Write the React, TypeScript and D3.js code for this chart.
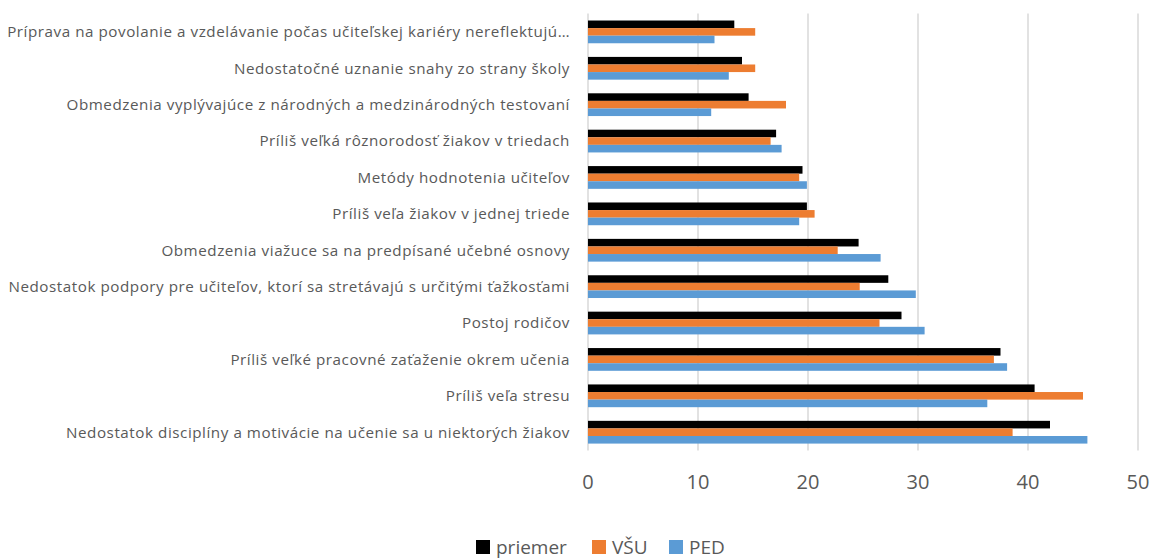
import React, { useEffect } from 'react';
import * as d3 from 'd3';

const categories = [
  'Príprava na povolanie a vzdelávanie počas učiteľskej kariéry nereflektujú…',
  'Nedostatočné uznanie snahy zo strany školy',
  'Obmedzenia vyplývajúce z národných a medzinárodných testovaní',
  'Príliš veľká rôznorodosť žiakov v triedach',
  'Metódy hodnotenia učiteľov',
  'Príliš veľa žiakov v jednej triede',
  'Obmedzenia viažuce sa na predpísané učebné osnovy',
  'Nedostatok podpory pre učiteľov, ktorí sa stretávajú s určitými ťažkosťami',
  'Postoj rodičov',
  'Príliš veľké pracovné zaťaženie okrem učenia',
  'Príliš veľa stresu',
  'Nedostatok disciplíny a motivácie na učenie sa u niektorých žiakov',
];

const seriesNames = ['priemer', 'VŠU', 'PED'];
const seriesColors = ['#000000', '#ED7D31', '#5B9BD5'];

const priemer = [13.3, 14.0, 14.6, 17.1, 19.5, 19.9, 24.6, 27.3, 28.5, 37.5, 40.6, 42.0];
const vsu = [15.2, 15.2, 18.0, 16.6, 19.2, 20.6, 22.7, 24.7, 26.5, 36.9, 45.0, 38.6];
const ped = [11.5, 12.8, 11.2, 17.6, 19.9, 19.2, 26.6, 29.8, 30.6, 38.1, 36.3, 45.4];

const xTicks = [0, 10, 20, 30, 40, 50];

const W = 1153;
const H = 560;
const plot = { left: 588, right: 1138, top: 13.6, bottom: 450.5 };
const font = "'Open Sans', 'Noto Sans', sans-serif";
const textColor = '#595959';

export default function App() {
  useEffect(() => {
    document.body.style.margin = '0';
  }, []);

  const series = [priemer, vsu, ped];

  const x = d3.scaleLinear().domain([0, 50]).range([plot.left, plot.right]);
  const y = d3.scaleBand<string>().domain(categories).range([plot.top, plot.bottom]).paddingInner(0.375).paddingOuter(0.19);
  const inner = d3.scaleBand<string>().domain(seriesNames).range([0, y.bandwidth()]);

  // legend swatch positions
  const legendX = [476, 592, 669];

  return (
    <svg width={W} height={H} style={{ display: 'block', background: '#fff' }}>
      {/* grid lines */}
      {xTicks.map((t) => (
        <line key={t} x1={x(t)} x2={x(t)} y1={plot.top} y2={plot.bottom} stroke="#d9d9d9" strokeWidth={1.5} />
      ))}

      {/* bars */}
      {categories.map((c, i) => (
        <g key={c} transform={`translate(0,${y(c)})`}>
          {series.map((s, j) => (
            <rect
              key={j}
              x={x(0)}
              y={inner(seriesNames[j])}
              width={x(s[i]) - x(0)}
              height={inner.bandwidth()}
              fill={seriesColors[j]}
            />
          ))}
        </g>
      ))}

      {/* category labels */}
      {categories.map((c) => (
        <text
          key={c}
          x={570}
          y={(y(c) as number) + y.bandwidth() / 2}
          dy="0.35em"
          textAnchor="end"
          fill={textColor}
          fontFamily={font}
          fontSize={15.2}
          letterSpacing={0.55}
        >
          {c}
        </text>
      ))}

      {/* x tick labels */}
      {xTicks.map((t) => (
        <text key={t} x={x(t)} y={481.5} dy="0.35em" textAnchor="middle" fill={textColor} fontFamily={font} fontSize={20}>
          {t}
        </text>
      ))}

      {/* legend */}
      {seriesNames.map((n, j) => (
        <g key={n} transform={`translate(${legendX[j]},${547})`}>
          <rect x={0} y={-7} width={14} height={14} fill={seriesColors[j]} />
          <text x={20} y={0} dy="0.35em" fill={textColor} fontFamily={font} fontSize={19}>
            {n}
          </text>
        </g>
      ))}
    </svg>
  );
}
